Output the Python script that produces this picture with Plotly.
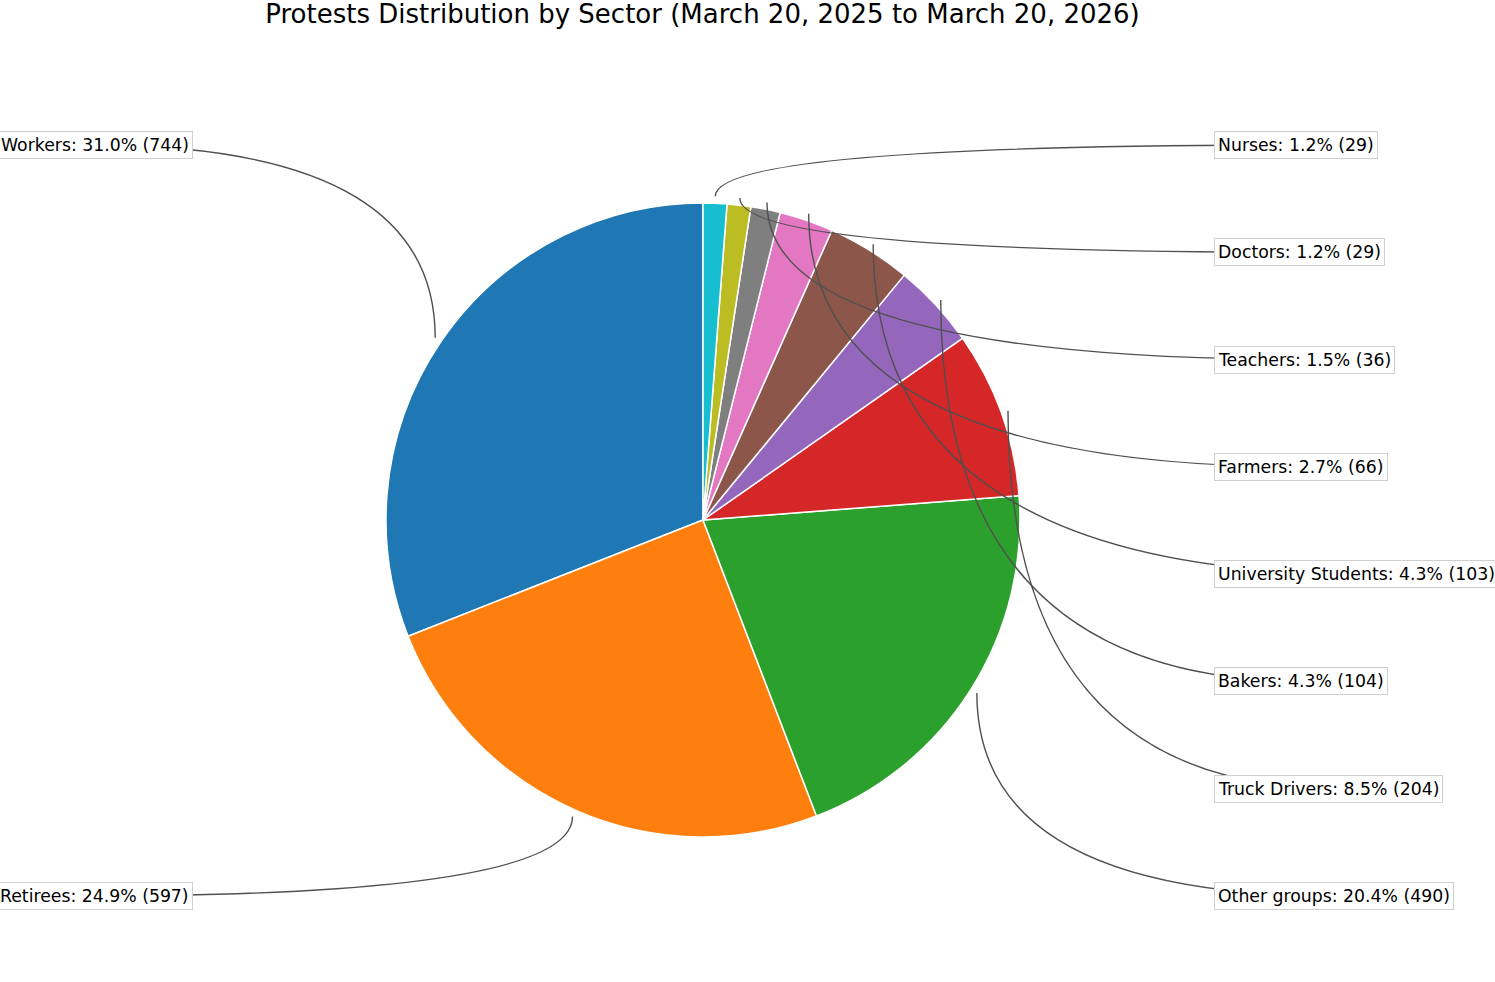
import numpy as np
import plotly.graph_objects as go

# protest counts per sector, in pie order (counter-clockwise from 12 o'clock)
sectors = ["Workers", "Retirees", "Other groups", "Truck Drivers", "Bakers",
           "University Students", "Farmers", "Teachers", "Doctors", "Nurses"]
counts = [744, 597, 490, 204, 104, 103, 66, 36, 29, 29]
colors = ["#1f77b4", "#ff7f0e", "#2ca02c", "#d62728", "#9467bd",
          "#8c564b", "#e377c2", "#7f7f7f", "#bcbd22", "#17becf"]
title = "Protests Distribution by Sector (March 20, 2025 to March 20, 2026)"

W, H = 1495, 982
cx, cy, R = 703, 520, 317          # pie centre / radius in pixels
font_size = 17.3
lab_top, lab_bot = 145, 896        # first / last label rows (px)
left_edge, right_edge = 192.5, 1214

def px(x):
    return x / W

def py(y):
    return 1 - y / H

total = sum(counts)
fracs = np.array(counts) / total
mids = 90 + 360 * (np.cumsum(fracs) - fracs / 2)   # mid angle of every wedge, degrees

# plotly's counterclockwise pies end the first slice at 12 o'clock,
# so rotate back by the first slice to make it start there instead
fig = go.Figure(go.Pie(
    labels=sectors, values=counts, sort=False, direction="counterclockwise",
    rotation=-360 * fracs[0],
    marker=dict(colors=colors, line=dict(color="white", width=1.5)),
    textinfo="none", showlegend=False,
    domain=dict(x=[px(cx - R), px(cx + R)], y=[py(cy + R), py(cy - R)]),
))

# split into left / right side, each ordered from top to bottom
rad = np.radians(mids)
ax = cx + 1.022 * R * np.cos(rad)
ay = cy - 1.022 * R * np.sin(rad)
right = sorted([i for i in range(len(counts)) if np.cos(rad[i]) > 0], key=lambda i: ay[i])
left = sorted([i for i in range(len(counts)) if np.cos(rad[i]) <= 0], key=lambda i: ay[i])

annotations = []
shapes = []
for side, idx in (("left", left), ("right", right)):
    rows = np.linspace(lab_top, lab_bot, len(idx))
    for i, ty in zip(idx, rows):
        txt = f"{sectors[i]}: {fracs[i] * 100:.1f}% ({counts[i]})"
        half = (len(txt) * 0.555 * font_size + 10) / 2
        if side == "right":
            tx, anchor, bx = right_edge + half, "left", right_edge
        else:
            tx, anchor, bx = left_edge - half, "right", left_edge
        annotations.append(dict(
            text=txt, x=px(bx), y=py(ty), xref="paper", yref="paper",
            xanchor=anchor, yanchor="middle", showarrow=False,
            font=dict(family="DejaVu Sans", size=font_size, color="black"),
            bgcolor="white", bordercolor="#cfcfcf", borderwidth=1, borderpad=3,
        ))
        # angle3-like connector: from label centre, bend at (wedge x, label y)
        path = (f"M {px(tx)},{py(ty)} Q {px(ax[i])},{py(ty)} "
                f"{px(ax[i])},{py(ay[i])}")
        shapes.append(dict(type="path", path=path, xref="paper", yref="paper",
                           line=dict(color="#505050", width=1.4), layer="above"))

fig.update_layout(
    width=W, height=H,
    margin=dict(l=0, r=0, t=0, b=0),
    paper_bgcolor="white", plot_bgcolor="white",
    title=dict(text=title, x=px(702.5), xanchor="center", xref="paper",
               y=1 - 14 / H, yanchor="middle", yref="container",
               font=dict(family="DejaVu Sans", size=26, color="black")),
    annotations=annotations, shapes=shapes,
)

# drop the browser's default body margin so the figure sits at the page corner
fig.write_html("out.html", config={"displayModeBar": False},
               post_script="document.body.style.margin='0';")
